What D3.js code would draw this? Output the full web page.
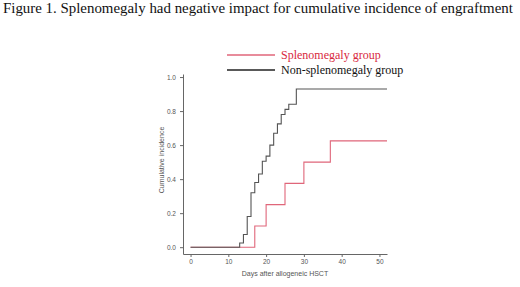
<!DOCTYPE html>
<html>
<head>
<meta charset="utf-8">
<script src="https://cdn.jsdelivr.net/npm/d3@7"></script>
<style>
  body { margin: 0; background: #fff; }
  svg { display: block; }
</style>
</head>
<body>
<svg id="chart"></svg>
<script>
// data
const spleno_days  = [0, 17, 20, 25, 30, 37, 52];
const spleno_inc   = [0, 0.125, 0.25, 0.375, 0.5, 0.625, 0.625];
const non_days = [0, 13, 14, 15, 16, 17, 18, 19, 20, 21, 22, 23, 24, 25, 26, 28, 52];
const non_inc  = [0, 0.025, 0.075, 0.18, 0.32, 0.38, 0.43, 0.505, 0.535, 0.60, 0.67, 0.725, 0.78, 0.81, 0.84, 0.93, 0.93];
const x_ticks = [0, 10, 20, 30, 40, 50];
const y_ticks = [0, 0.2, 0.4, 0.6, 0.8, 1.0];
const legend_labels = ["Splenomegaly group", "Non-splenomegaly group"];

const width = 520, height = 287;
const red = "#e0667a", grey = "#555";

const svg = d3.select("#chart")
    .attr("width", width)
    .attr("height", height);

// title
svg.append("text")
    .attr("x", 3)
    .attr("y", 13)
    .style("font-family", "'Liberation Serif', 'Times New Roman', serif")
    .style("font-size", "14.9px")
    .style("fill", "#111")
    .text("Figure 1. Splenomegaly had negative impact for cumulative incidence of engraftment");

const xScale = d3.scaleLinear().domain([-2, 52]).range([183, 387]);
const yScale = d3.scaleLinear().domain([-0.04, 1.018]).range([254, 74]);

//Add group for the x axis
const xAxis = svg.append("g")
    .attr("class", "x-axis")
    .attr("transform", "translate(0," + yScale(-0.04) + ")")
    .call(d3.axisBottom(xScale)
        .tickValues(x_ticks)
        .tickSize(3)
        .tickSizeOuter(0)
        .tickPadding(2)
        .tickFormat(d3.format("d")));

//Add group for the y axis
const yAxis = svg.append("g")
    .attr("class", "y-axis")
    .attr("transform", "translate(" + xScale(-2) + ",0)")
    .call(d3.axisLeft(yScale)
        .tickValues(y_ticks)
        .tickSize(3)
        .tickSizeOuter(0)
        .tickPadding(4)
        .tickFormat(d3.format(".1f")));

svg.selectAll(".x-axis, .y-axis").selectAll("path, line")
    .attr("stroke", "#666");
svg.selectAll(".x-axis, .y-axis").selectAll("text")
    .style("font-family", "Arial, 'Liberation Sans', sans-serif")
    .style("font-size", "6.5px")
    .style("fill", "#555");

// axis titles
svg.append("text")
    .attr("x", 285)
    .attr("y", 276)
    .attr("text-anchor", "middle")
    .style("font-family", "Arial, 'Liberation Sans', sans-serif")
    .style("font-size", "7px")
    .style("fill", "#555")
    .text("Days after allogeneic HSCT");

svg.append("text")
    .attr("transform", "translate(164,160) rotate(-90)")
    .attr("text-anchor", "middle")
    .style("font-family", "Arial, 'Liberation Sans', sans-serif")
    .style("font-size", "7px")
    .style("fill", "#555")
    .text("Cumulative incidence");

// step curves
const line = d3.line()
    .x(function (d) { return xScale(d[0]); })
    .y(function (d) { return yScale(d[1]); })
    .curve(d3.curveStepAfter);

svg.append("path")
    .datum(d3.zip(spleno_days, spleno_inc))
    .attr("d", line)
    .attr("fill", "none")
    .attr("stroke", red)
    .attr("stroke-width", 1.1);

svg.append("path")
    .datum(d3.zip(non_days, non_inc))
    .attr("d", line)
    .attr("fill", "none")
    .attr("stroke", grey)
    .attr("stroke-width", 1.1);

// legend
const legend = svg.selectAll(".legend")
    .data(legend_labels)
    .enter().append("g")
    .attr("class", "legend")
    .attr("transform", function (d, i) { return "translate(0," + (55 + i * 15) + ")"; });

legend.append("line")
    .attr("x1", 227)
    .attr("x2", 275)
    .attr("stroke", function (d, i) { return i === 0 ? red : "#222"; })
    .attr("stroke-width", 1.3);

legend.append("text")
    .attr("x", 281)
    .attr("y", 4)
    .style("font-family", "'Liberation Serif', 'Times New Roman', serif")
    .style("font-size", "12px")
    .style("fill", function (d, i) { return i === 0 ? "#d8283e" : "#111"; })
    .text(function (d) { return d; });
</script>
</body>
</html>
